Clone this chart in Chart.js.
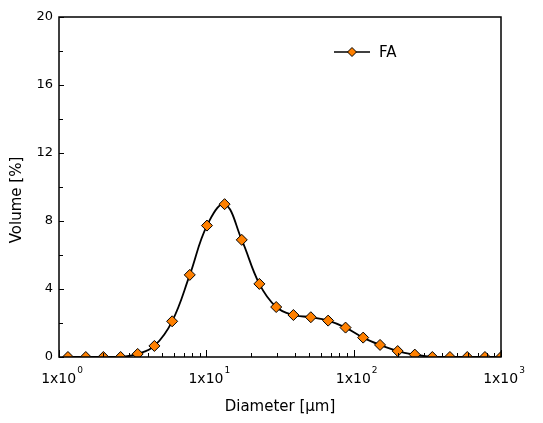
<!DOCTYPE html>
<html>
<head>
<meta charset="utf-8">
<script src="https://cdn.jsdelivr.net/npm/chart.js@4/dist/chart.umd.min.js"></script>
<style>
  html, body { margin: 0; padding: 0; background: #fff; }
  #wrap { width: 543px; height: 423px; }
</style>
</head>
<body>
<div id="wrap"><canvas id="psd"></canvas></div>
<script>
// particle size distribution
const diameters = [1.15, 1.52, 2.00, 2.62, 3.42, 4.44, 5.86, 7.72, 10.1, 13.3, 17.4, 22.9, 29.8,
    39.0, 51.2, 67.1, 88.1, 116, 151, 199, 260, 342, 450, 590, 778, 1000];
const volumeFA = [0, 0, 0, 0, 0.18, 0.65, 2.1, 4.83, 7.73, 8.99, 6.89, 4.3, 2.94,
    2.47, 2.34, 2.14, 1.73, 1.14, 0.71, 0.35, 0.14, 0, 0, 0, 0, 0];

const xTicks = [1, 2, 3, 4, 5, 6, 7, 8, 9, 10, 20, 30, 40, 50, 60, 70, 80, 90,
    100, 200, 300, 400, 500, 600, 700, 800, 900, 1000];
const xDecades = [1, 10, 100, 1000];
const xExponents = ["0", "1", "2", "3"];
const yTicks = [0, 2, 4, 6, 8, 10, 12, 14, 16, 18, 20];

const FONT = "'DejaVu Sans', Verdana, sans-serif";
const ORANGE = "#ff8000";

// inward ticks, closed frame, 1x10^n labels, y title and legend
const framePlugin = {
    id: "frame",
    afterDraw(chart) {
        const ctx = chart.ctx;
        const a = chart.chartArea;
        const xs = chart.scales.x, ys = chart.scales.y;
        ctx.save();
        ctx.strokeStyle = "#000";
        ctx.lineWidth = 1;
        ctx.beginPath();
        xTicks.forEach(v => {
            const px = Math.round(xs.getPixelForValue(v)) + 0.5;
            const len = xDecades.includes(v) ? 7 : 4;
            ctx.moveTo(px, a.bottom);
            ctx.lineTo(px, a.bottom - len);
        });
        yTicks.forEach(v => {
            const py = Math.round(ys.getPixelForValue(v)) + 0.5;
            const len = v % 4 === 0 ? 5 : 4;
            ctx.moveTo(a.left, py);
            ctx.lineTo(a.left + len, py);
        });
        ctx.stroke();
        ctx.lineWidth = 1.5;
        ctx.strokeRect(a.left, a.top, a.right - a.left, a.bottom - a.top);

        // x tick labels with real superscripts
        ctx.fillStyle = "#000";
        ctx.textBaseline = "alphabetic";
        xDecades.forEach((v, i) => {
            const px = xs.getPixelForValue(v);
            ctx.font = "14px " + FONT;
            const wBase = ctx.measureText("1x10").width;
            ctx.font = "9px " + FONT;
            const wExp = ctx.measureText(xExponents[i]).width;
            const x0 = px + 3 - (wBase + wExp + 1) / 2;
            ctx.font = "14px " + FONT;
            ctx.fillText("1x10", x0, 383);
            ctx.font = "9px " + FONT;
            ctx.fillText(xExponents[i], x0 + wBase + 1, 373);
        });

        // y axis title
        ctx.save();
        ctx.translate(17, 200);
        ctx.rotate(-Math.PI / 2);
        ctx.font = "15px " + FONT;
        ctx.textAlign = "center";
        ctx.textBaseline = "middle";
        ctx.fillText("Volume [%]", 0, 0);
        ctx.restore();

        // legend
        const lx = 334, ly = 52;
        ctx.lineWidth = 1.5;
        ctx.beginPath();
        ctx.moveTo(lx, ly);
        ctx.lineTo(lx + 36, ly);
        ctx.stroke();
        ctx.beginPath();
        ctx.moveTo(lx + 18, ly - 4.5);
        ctx.lineTo(lx + 22.5, ly);
        ctx.lineTo(lx + 18, ly + 4.5);
        ctx.lineTo(lx + 13.5, ly);
        ctx.closePath();
        ctx.fillStyle = ORANGE;
        ctx.fill();
        ctx.lineWidth = 1;
        ctx.stroke();
        ctx.fillStyle = "#000";
        ctx.font = "15px " + FONT;
        ctx.textBaseline = "middle";
        ctx.fillText("FA", lx + 45, ly + 1);
        ctx.restore();
    }
};

new Chart(document.getElementById("psd"), {
    type: "line",
    data: {
        labels: diameters,
        datasets: [{
            label: "FA",
            data: diameters.map((d, i) => ({ x: d, y: volumeFA[i] })),
            borderColor: "#000",
            borderWidth: 1.8,
            tension: 0.4,
            pointStyle: "rectRot",
            pointRadius: 5.5,
            pointHoverRadius: 5.5,
            pointBackgroundColor: ORANGE,
            pointBorderColor: "#000",
            pointBorderWidth: 1,
            clip: 0
        }]
    },
    plugins: [framePlugin],
    options: {
        responsive: true,
        maintainAspectRatio: false,
        animation: false,
        layout: { padding: { top: 17, right: 42, left: 0, bottom: 0 } },
        plugins: { legend: { display: false }, tooltip: { enabled: false } },
        scales: {
            x: {
                type: "logarithmic",
                min: 1,
                max: 1000,
                afterBuildTicks: s => { s.ticks = xTicks.map(v => ({ value: v, major: xDecades.includes(v) })); },
                afterFit: s => { s.height = 66; },
                grid: { display: false, drawTicks: false },
                border: { display: false },
                ticks: { display: false, autoSkip: false, maxRotation: 0 },
                title: {
                    display: true,
                    text: "Diameter [\u03bcm]",
                    color: "#000",
                    font: { family: FONT, size: 15 },
                    padding: { top: 0, bottom: 7 }
                }
            },
            y: {
                min: 0,
                max: 20,
                afterBuildTicks: s => { s.ticks = yTicks.map(v => ({ value: v })); },
                afterFit: s => { s.width = 59; },
                grid: { display: false, drawTicks: false },
                border: { display: false },
                ticks: {
                    padding: 6,
                    color: "#000",
                    font: { family: FONT, size: 13 },
                    callback: v => (v % 4 === 0 ? v : "")
                }
            }
        }
    }
});
</script>
</body>
</html>
